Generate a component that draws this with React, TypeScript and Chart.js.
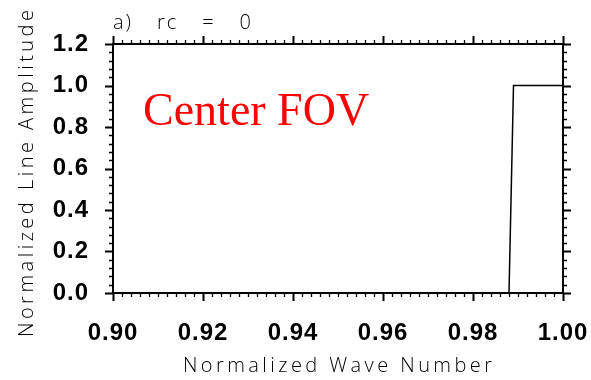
import React, { useEffect, useRef } from "react";
import { Chart, registerables } from "chart.js";

Chart.register(...registerables);

const waveNumber = [0.9, 0.988, 0.989, 1.0];
const amplitude = [0, 0, 1, 1];
const xTickValues = [0.9, 0.92, 0.94, 0.96, 0.98, 1.0];
const yTickValues = [0, 0.2, 0.4, 0.6, 0.8, 1.0, 1.2];
const xMinorStep = 0.002;
const yMinorStep = 0.04;
const panelTitle = "a) rc = 0";
const xTitle = "Normalized Wave Number";
const yTitle = "Normalized Line Amplitude";
const annotation = "Center FOV";

const W = 591;
const H = 380;

function spacedText(ctx: any, text: string, x: number, y: number, target: number, align: "left" | "center", letter?: number) {
  ctx.letterSpacing = "0px";
  ctx.wordSpacing = "0px";
  const w = ctx.measureText(text).width;
  if (letter === undefined) {
    const sp = Math.max(0, (target - w) / (text.length - 1));
    ctx.letterSpacing = sp + "px";
  } else {
    const words = text.split(" ").length - 1;
    const rest = target - w - letter * (text.length - 1);
    ctx.letterSpacing = letter + "px";
    ctx.wordSpacing = Math.max(0, rest / Math.max(1, words)) + "px";
  }
  ctx.textAlign = "left";
  const start = align === "center" ? x - target / 2 : x;
  ctx.fillText(text, start, y);
  ctx.letterSpacing = "0px";
  ctx.wordSpacing = "0px";
}

const framePlugin = {
  id: "frame",
  beforeDraw(chart: any) {
    (chart.ctx as any).letterSpacing = "1px";
  },
  afterDraw(chart: any) {
    const ctx = chart.ctx;
    (ctx as any).letterSpacing = "0px";
    const a = chart.chartArea;
    const xs = chart.scales.x;
    const ys = chart.scales.y;
    ctx.save();
    ctx.strokeStyle = "#000";
    const isMajor = (v: number, list: number[]) => list.some((t) => Math.abs(t - v) < 1e-6);
    const nx = Math.round((xs.max - xs.min) / xMinorStep);
    for (let i = 0; i <= nx; i++) {
      const v = xs.min + i * xMinorStep;
      const px = Math.round(xs.getPixelForValue(v)) + 0.5;
      const major = isMajor(v, xTickValues);
      const len = major ? 8 : 4;
      ctx.lineWidth = major ? 2 : 1.3;
      ctx.beginPath();
      ctx.moveTo(px, a.bottom);
      ctx.lineTo(px, a.bottom + len);
      ctx.moveTo(px, a.top);
      ctx.lineTo(px, a.top - len);
      ctx.stroke();
    }
    const ny = Math.round((ys.max - ys.min) / yMinorStep);
    for (let i = 0; i <= ny; i++) {
      const v = ys.min + i * yMinorStep;
      const py = Math.round(ys.getPixelForValue(v)) + 0.5;
      const major = isMajor(v, yTickValues);
      const len = major ? 8 : 4;
      ctx.lineWidth = major ? 2 : 1.3;
      ctx.beginPath();
      ctx.moveTo(a.left, py);
      ctx.lineTo(a.left - len, py);
      ctx.moveTo(a.right, py);
      ctx.lineTo(a.right + len, py);
      ctx.stroke();
    }
    ctx.lineWidth = 2;
    ctx.strokeRect(a.left, a.top, a.right - a.left, a.bottom - a.top);

    ctx.fillStyle = "#000";
    ctx.font = "300 20px 'Open Sans'";
    ctx.textBaseline = "alphabetic";
    spacedText(ctx, panelTitle, a.left, 29, 138, "left", 2);
    spacedText(ctx, xTitle, 337.5, 372, 309, "center");

    ctx.save();
    ctx.translate(33, 173.5);
    ctx.rotate(-Math.PI / 2);
    spacedText(ctx, yTitle, 0, 0, 327, "center");
    ctx.restore();

    ctx.fillStyle = "#ff0000";
    ctx.font = "46px 'Liberation Serif'";
    ctx.textAlign = "left";
    ctx.fillText(annotation, 143, 125);
    ctx.restore();
  },
};

export default function App() {
  const ref = useRef<HTMLCanvasElement>(null);
  useEffect(() => {
    if (!ref.current) return;
    const tickFont = { family: "'Liberation Sans', Arial, sans-serif", size: 24, weight: "bold" as const };
    const chart = new Chart(ref.current, {
      type: "line",
      data: {
        datasets: [
          {
            data: waveNumber.map((x, i) => ({ x, y: amplitude[i] })),
            borderColor: "#000",
            borderWidth: 1.5,
            pointRadius: 0,
            tension: 0,
            fill: false,
          },
        ],
      },
      options: {
        animation: false,
        responsive: false,
        events: [],
        layout: { padding: { left: 0, top: 44, right: 28, bottom: 0 } },
        plugins: { legend: { display: false }, tooltip: { enabled: false }, title: { display: false } },
        scales: {
          x: {
            type: "linear",
            min: 0.9,
            max: 1.0,
            afterFit: (s: any) => {
              s.height = H - 293;
              s.paddingLeft = 0;
              s.paddingRight = 0;
            },
            afterBuildTicks: (s: any) => {
              s.ticks = xTickValues.map((v) => ({ value: v }));
            },
            border: { display: false },
            grid: { display: false, drawTicks: false },
            ticks: {
              padding: 26,
              color: "#000",
              font: tickFont,
              maxRotation: 0,
              autoSkip: false,
              callback: (v: any) => Number(v).toFixed(2),
            },
          },
          y: {
            type: "linear",
            min: 0,
            max: 1.2,
            afterFit: (s: any) => {
              s.width = 113;
              s.paddingTop = 0;
              s.paddingBottom = 0;
            },
            afterBuildTicks: (s: any) => {
              s.ticks = yTickValues.map((v) => ({ value: v }));
            },
            border: { display: false },
            grid: { display: false, drawTicks: false },
            ticks: {
              padding: 24,
              color: "#000",
              font: tickFont,
              autoSkip: false,
              callback: (v: any) => Number(v).toFixed(1),
            },
          },
        },
      },
      plugins: [framePlugin],
    });
    return () => chart.destroy();
  }, []);
  return (
    <div style={{ position: "absolute", left: 0, top: 0, width: W, height: H, background: "#fff" }}>
      <canvas ref={ref} width={W} height={H} style={{ display: "block" }} />
    </div>
  );
}
